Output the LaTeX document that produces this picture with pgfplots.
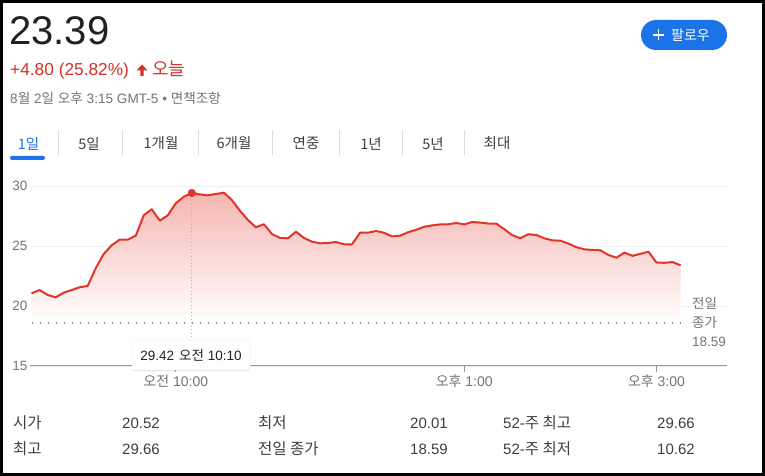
\documentclass[border=0pt]{standalone}
\usepackage{pgfplots}
\pgfplotsset{compat=1.18}
\usepackage{pgfplotstable}
\usetikzlibrary{shadows}
\usepackage{fontspec}
\setmainfont{Liberation Sans}
\newfontfamily\kr{Noto Sans CJK KR}
\newcommand\fs[1]{\fontsize{#1}{#1}\selectfont}
\definecolor{gred}{RGB}{226,52,40}
\definecolor{tred}{RGB}{208,52,44}
\definecolor{gblue}{RGB}{26,115,232}
\definecolor{tgray}{RGB}{112,117,122}
\definecolor{dgray}{RGB}{60,64,67}
\definecolor{tblack}{RGB}{32,33,36}
\definecolor{sepgray}{RGB}{218,220,224}
\definecolor{gridgray}{RGB}{238,239,241}

\pgfplotstableread{
t v
510 21.06
515 21.33
520 20.92
525 20.72
530 21.11
535 21.33
540 21.56
545 21.67
550 23.14
555 24.33
560 25.06
565 25.53
570 25.53
575 25.86
580 27.56
585 28.06
590 27.11
595 27.56
600 28.56
605 29.11
610 29.42
615 29.30
620 29.22
625 29.33
630 29.44
635 28.83
640 27.94
645 27.17
650 26.56
655 26.81
660 26.00
665 25.67
670 25.64
675 26.19
680 25.67
685 25.36
690 25.22
695 25.25
700 25.33
705 25.14
710 25.14
715 26.11
720 26.11
725 26.25
730 26.10
735 25.80
740 25.86
745 26.15
750 26.35
755 26.60
760 26.72
765 26.80
770 26.81
775 26.92
780 26.80
785 27.00
790 26.95
795 26.87
800 26.86
805 26.40
810 25.90
815 25.65
820 25.98
825 25.92
830 25.64
835 25.47
840 25.44
845 25.20
850 24.90
855 24.72
860 24.67
865 24.64
870 24.25
875 24.02
880 24.45
885 24.18
890 24.35
895 24.52
900 23.62
905 23.60
910 23.66
915 23.39
}\pricedata

% same series, closed down to the previous close (18.59) for the shaded area
\pgfplotstableread{
t v
510 18.59
510 21.06
515 21.33
520 20.92
525 20.72
530 21.11
535 21.33
540 21.56
545 21.67
550 23.14
555 24.33
560 25.06
565 25.53
570 25.53
575 25.86
580 27.56
585 28.06
590 27.11
595 27.56
600 28.56
605 29.11
610 29.42
615 29.30
620 29.22
625 29.33
630 29.44
635 28.83
640 27.94
645 27.17
650 26.56
655 26.81
660 26.00
665 25.67
670 25.64
675 26.19
680 25.67
685 25.36
690 25.22
695 25.25
700 25.33
705 25.14
710 25.14
715 26.11
720 26.11
725 26.25
730 26.10
735 25.80
740 25.86
745 26.15
750 26.35
755 26.60
760 26.72
765 26.80
770 26.81
775 26.92
780 26.80
785 27.00
790 26.95
795 26.87
800 26.86
805 26.40
810 25.90
815 25.65
820 25.98
825 25.92
830 25.64
835 25.47
840 25.44
845 25.20
850 24.90
855 24.72
860 24.67
865 24.64
870 24.25
875 24.02
880 24.45
885 24.18
890 24.35
895 24.52
900 23.62
905 23.60
910 23.66
915 23.39
915 18.59
}\filldata

\begin{document}
\begin{tikzpicture}[x=1pt,y=1pt]
\useasboundingbox (0,0) rectangle (765,476);
\fill[white] (0,0) rectangle (765,476);

\begin{axis}[
  at={(30pt,110pt)}, anchor=south west,
  scale only axis, width=697pt, height=192pt,
  xmin=509, xmax=944, ymin=15, ymax=31,
  clip=false,
  axis x line*=bottom, axis y line*=left,
  x axis line style={draw=gray!80, line width=1pt},
  y axis line style={draw=none},
  ytick={15,20,25,30},
  ytick style={draw=none},
  ymajorgrids, grid style={draw=gridgray, line width=0.8pt},
  xtick={600,780,900},
  xticklabels={{{\kr 오전} 10:00},{{\kr 오후} 1:00},{{\kr 오후} 3:00}},
  tick align=outside,
  major tick length=6pt,
  xtick style={draw=gray!80, line width=0.8pt},
  /pgf/number format/assume math mode=true,
  yticklabel style={font=\fs{13.5}, text=tgray, xshift=7pt},
  xticklabel style={font=\fs{14}, text=tgray, yshift=1pt},
]
\addplot[draw=none, top color=gred!36!white, bottom color=white] table[x=t,y=v] {\filldata};
% previous close dotted line
\addplot[tgray!80, line width=1.3pt, dash pattern=on 1.3pt off 6.7pt] coordinates {(510,18.59) (918,18.59)};
% vertical hover line
\addplot[gray!60, line width=1pt, dash pattern=on 1pt off 2.5pt] coordinates {(610,29.42) (610,17.2)};
% price line
\addplot[gred, line width=2pt, line join=round] table[x=t,y=v] {\pricedata};
% hover dot
\addplot[only marks, mark=*, mark size=3.8pt, gred, mark options={draw=gred, fill=gred}] coordinates {(610,29.42)};
\end{axis}

% tooltip
\node[draw=gray!15, fill=white, drop shadow={opacity=0.18, shadow xshift=0pt, shadow yshift=-1.5pt},
      rounded corners=2pt, minimum width=118pt, minimum height=30pt, inner sep=0pt,
      text=tblack, font=\fs{13.5}] at (191,121) {29.42\hspace{5pt}{\kr 오전} 10:10};

% previous close label
\node[anchor=west, text=tgray, font=\kr\fs{13.5}, inner sep=0pt] at (692,173) {전일};
\node[anchor=west, text=tgray, font=\kr\fs{13.5}, inner sep=0pt] at (692,154) {종가};
\node[anchor=west, text=tgray, font=\fs{13.5}, inner sep=0pt] at (692,134) {18.59};

% header
\node[anchor=base west, inner sep=0pt, text=tblack, font=\fs{40}] at (9,431) {23.39};
\node[anchor=base west, inner sep=0pt, text=tred, font=\fs{17.3}] at (10,400) {+4.80 (25.82\%)};
\fill[tred] (136.5,405.5) -- (142,411.5) -- (147.5,405.5) -- (143.6,405.5) -- (143.6,400) -- (140.4,400) -- (140.4,405.5) -- cycle;
\node[anchor=base west, inner sep=0pt, text=tred, font=\kr\fs{18}] at (152,400) {오늘};
\node[anchor=base west, inner sep=0pt, text=tgray, font=\fs{13.6}] at (10,372)
  {8{\kr 월} 2{\kr 일} {\kr 오후} 3:15 GMT-5 • {\kr 면책조항}};

% follow button
\fill[gblue, rounded corners=15pt] (641,426) rectangle (727,456);
\draw[white, line width=1.8pt] (653,441) -- (664,441) (658.5,435.5) -- (658.5,446.5);
\node[anchor=west, inner sep=0pt, text=white, font=\kr\fs{14}] at (671,441) {팔로우};

% tabs
\foreach \xx/\lab in {89/5일, 161/1개월, 234/6개월, 306/연중, 371/1년, 433/5년, 497/최대}{
  \node[inner sep=0pt, text=dgray, font=\kr\fs{14.5}] at (\xx,332.5) {\lab};
}
\node[inner sep=0pt, text=gblue, font=\kr\fs{14.5}] at (28.5,332.5) {1일};
\foreach \xx in {58,122,198,272,339,402,464}{
  \draw[sepgray, line width=0.8pt] (\xx,321) -- (\xx,346);
}
\fill[gblue, rounded corners=1.5pt] (10,316) rectangle (45,320);

% bottom table
\foreach \xx/\yy/\lab in {13/53/시가, 258/53/최저, 13/27/최고, 258/27/전일 종가}{
  \node[anchor=west, inner sep=0pt, text=dgray, font=\kr\fs{15.5}] at (\xx,\yy) {\lab};
}
\node[anchor=west, inner sep=0pt, text=dgray, font=\fs{15}] at (503,53) {52-{\kr\fs{15.5}주 최고}};
\node[anchor=west, inner sep=0pt, text=dgray, font=\fs{15}] at (503,27) {52-{\kr\fs{15.5}주 최저}};
\foreach \xx/\yy/\lab in {122/53/20.52, 410/53/20.01, 657/53/29.66, 122/27/29.66, 410/27/18.59, 657/27/10.62}{
  \node[anchor=west, inner sep=0pt, text=dgray, font=\fs{15}] at (\xx,\yy) {\lab};
}

% frame
\draw[black, line width=3pt] (1.5,1.5) rectangle (763.5,474.5);
\end{tikzpicture}
\end{document}
